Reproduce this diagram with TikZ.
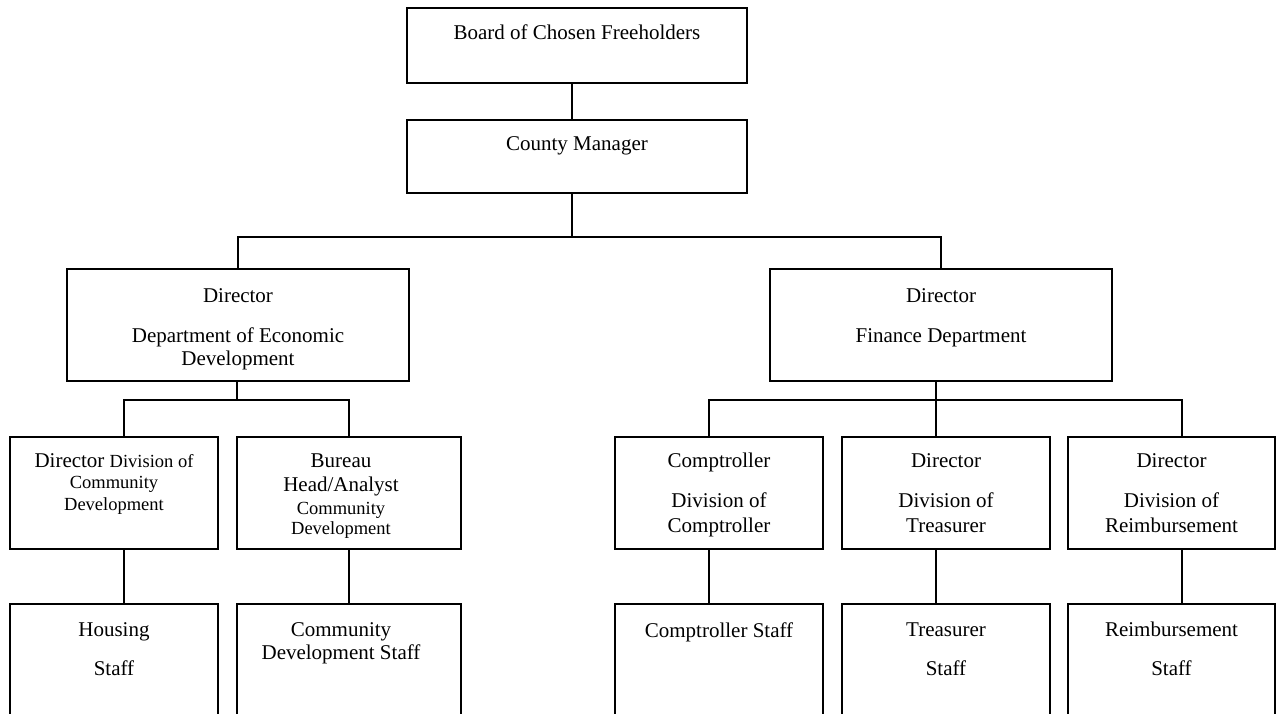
\documentclass[tikz,border=0pt]{standalone}
\usepackage{fontspec}
\setmainfont{Liberation Serif}
\usetikzlibrary{positioning}
\newcommand{\bigtext}{\fontsize{21}{23}\selectfont}
\newcommand{\smalltext}{\fontsize{18.5}{21}\selectfont}

\begin{document}
\begin{tikzpicture}[x=1pt, y=-1pt]
  \tikzset{unit/.style={draw, line width=1.8pt, inner sep=0pt},
           link/.style={line width=1.4pt},
           caption/.style={align=center, inner sep=0pt, anchor=north, font=\bigtext}}
  \useasboundingbox (0,0) rectangle (1276,714);
  \clip (0,0) rectangle (1276,714);

  % boxes
  \node[unit, minimum width=340pt, minimum height=75pt] (board) at (577,45.5) {};
  \node[unit, minimum width=340pt, minimum height=73pt] (cm) at (577,156.5) {};
  \node[unit, minimum width=342pt, minimum height=112pt] (econ) at (238,325) {};
  \node[unit, minimum width=342pt, minimum height=112pt] (fin) at (941,325) {};
  \node[unit, minimum width=208pt, minimum height=112pt] (ddiv) at (114,493) {};
  \node[unit, minimum width=224pt, minimum height=112pt] (bur) at (349,493) {};
  \node[unit, minimum width=208pt, minimum height=112pt] (comp) at (719,493) {};
  \node[unit, minimum width=208pt, minimum height=112pt] (tre) at (946,493) {};
  \node[unit, minimum width=207pt, minimum height=112pt] (reim) at (1171.5,493) {};
  \node[unit, minimum width=208pt, minimum height=126pt] (hous) at (114,667) {};
  \node[unit, minimum width=224pt, minimum height=126pt] (cds) at (349,667) {};
  \node[unit, minimum width=208pt, minimum height=126pt] (cmps) at (719,667) {};
  \node[unit, minimum width=208pt, minimum height=126pt] (tres) at (946,667) {};
  \node[unit, minimum width=207pt, minimum height=126pt] (reims) at (1171.5,667) {};

  % texts
  \node[caption, below=17pt of board.north] (boardT) {Board of Chosen Freeholders};
  \node[caption, below=17pt of cm.north] (cmT) {County Manager};
  \node[caption, below=20pt of econ.north] (econT) {Director\\[17pt]Department of Economic\\Development};
  \node[caption, below=20pt of fin.north] (finT) {Director\\[17pt]Finance Department};
  \node[caption, below=17pt of ddiv.north] (ddivT) {Director {\smalltext Division of}\\[-2pt]{\smalltext Community}\\[-1pt]{\smalltext Development}};
  \node[caption, below=17pt of bur.north, xshift=-8pt] (burT) {Bureau\\[1pt]Head/Analyst\\{\smalltext Community}\\[-3pt]{\smalltext Development}};
  \node[caption, below=17pt of comp.north] (compT) {Comptroller\\[17pt]Division of\\[2pt]Comptroller};
  \node[caption, below=17pt of tre.north] (treT) {Director\\[17pt]Division of\\[2pt]Treasurer};
  \node[caption, below=17pt of reim.north] (reimT) {Director\\[17pt]Division of\\[2pt]Reimbursement};
  \node[caption, below=19pt of hous.north] (housT) {Housing\\[16pt]Staff};
  \node[caption, below=19pt of cds.north, xshift=-8pt] (cdsT) {Community\\Development Staff};
  \node[caption, below=19pt of cmps.north] (cmpsT) {Comptroller Staff};
  \node[caption, below=19pt of tres.north] (tresT) {Treasurer\\[16pt]Staff};
  \node[caption, below=19pt of reims.north] (reimsT) {Reimbursement\\[16pt]Staff};

  % junctions
  \coordinate (mj) at (572,237);
  \coordinate (ej) at (237,400);
  \coordinate (fj) at (936,400);

  % connectors
  \draw[link] (board.south -| mj) -- (cm.north -| mj);
  \draw[link] (cm.south -| mj) -- (mj);
  \draw[link] (econ.north) |- (mj) -| (fin.north);
  \draw[link] (econ.south -| ej) -- (ej);
  \draw[link] ([xshift=10pt]ddiv.north) |- (ej) -| (bur.north);
  \draw[link] ([xshift=10pt]ddiv.south) -- ([xshift=10pt]hous.north);
  \draw[link] (bur.south) -- (cds.north);
  \draw[link] (fin.south -| fj) -- (fj);
  \draw[link] ([xshift=-10pt]comp.north) |- (fj) -| ([xshift=10.5pt]reim.north);
  \draw[link] (fj) -- ([xshift=-10pt]tre.north);
  \draw[link] ([xshift=-10pt]comp.south) -- ([xshift=-10pt]cmps.north);
  \draw[link] ([xshift=-10pt]tre.south) -- ([xshift=-10pt]tres.north);
  \draw[link] ([xshift=10.5pt]reim.south) -- ([xshift=10.5pt]reims.north);
\end{tikzpicture}
\end{document}
